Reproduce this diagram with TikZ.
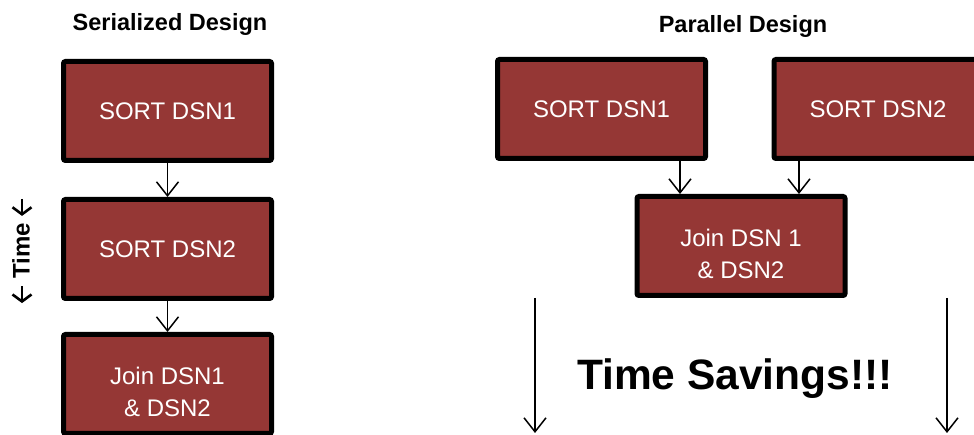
\documentclass[tikz,border=0pt]{standalone}
\usepackage{fontspec}
\setmainfont{Liberation Sans}
\usepackage{xcolor}
\usepackage{tikz}
\usetikzlibrary{positioning,arrows.meta}
\definecolor{dsnred}{RGB}{149, 55, 53}
\newcommand{\boxfont}{\fontsize{24}{32}\selectfont}
\newcommand{\timearrow}{\tikz[baseline=-0.6ex]\draw[line width=2.6pt, -{Straight Barb[length=7pt, width=19pt, line width=2.6pt]}] (17pt,0) -- (0,0);}
\newcommand{\lowtext}{\rule{0pt}{33pt}}

\begin{document}
\begin{tikzpicture}[x=1pt, y=1pt,
    dsnbox/.style={rectangle, fill=dsnred, draw=black, line width=5pt, rounded corners=2pt,
        minimum width=208pt, minimum height=99pt, inner sep=0pt, text=white,
        align=center, font=\boxfont},
    heading/.style={anchor=base, font=\fontsize{23.5}{28}\selectfont\bfseries},
    flow/.style={line width=1.5pt, -{Straight Barb[length=14pt, width=22pt, line width=1.5pt]}}]
    \useasboundingbox (0,0) rectangle (974,435);

    % serialized
    \node[heading] (serial) at (170,404) {Serialized Design};
    \node[dsnbox] (s1) at (167.5,324) {SORT DSN1};
    \node[dsnbox] (s2) at (167.5,186) {SORT DSN2};
    \node[dsnbox] (s3) at (167.5,51) {\lowtext Join DSN1\\ \& DSN2};
    \draw[flow] (s1) -- (s2);
    \draw[flow] (s2) -- (s3);
    \node[rotate=90, font=\fontsize{24}{28}\selectfont\bfseries] (time) at (22,184) {\timearrow\hspace{6pt}Time\hspace{6pt}\timearrow};

    % parallel
    \node[heading] (parallel) at (743,402) {Parallel Design};
    \node[dsnbox] (p1) at (601.5,326) {SORT DSN1};
    \node[dsnbox] (p2) at (878,326) {SORT DSN2};
    \node[dsnbox] (join) at (741,189) {\lowtext Join DSN 1\\ \& DSN2};
    \coordinate (j1) at ([xshift=-61pt]join.north);
    \coordinate (j2) at ([xshift=58pt]join.north);
    \draw[flow] (j1 |- p1.south) -- (j1);
    \draw[flow] (j2 |- p2.south) -- (j2);

    \coordinate (lt) at (535,137);
    \coordinate (lb) at (535,2);
    \coordinate (rt) at (947,137);
    \coordinate (rb) at (947,2);
    \draw[flow] (lt) -- (lb);
    \draw[flow] (rt) -- (rb);
    \node[anchor=base, font=\fontsize{42.5}{48}\selectfont\bfseries] (saving) at (735,45) {Time Savings!!!};
\end{tikzpicture}
\end{document}
